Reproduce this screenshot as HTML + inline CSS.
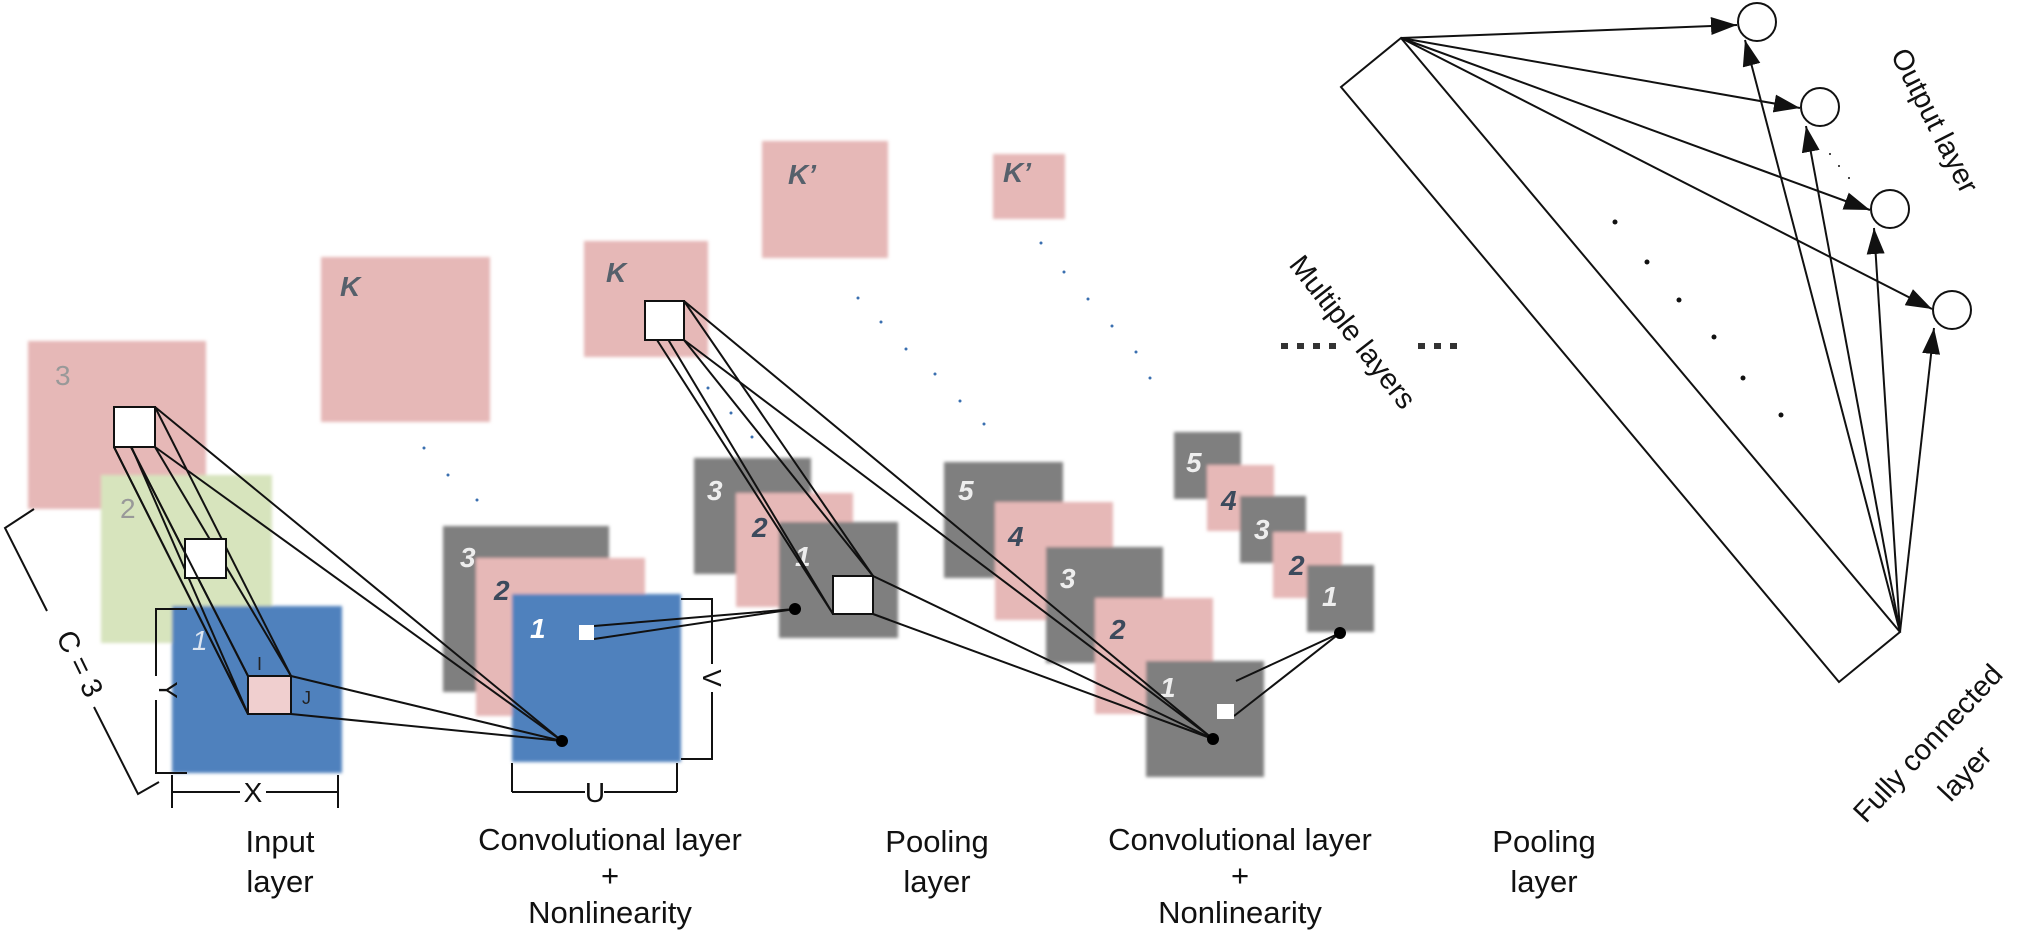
<!DOCTYPE html>
<html><head><meta charset="utf-8"><style>
html,body{margin:0;padding:0;background:#fff;}
svg{display:block;}
.lbl{font-family:"Liberation Sans",sans-serif;font-size:31px;fill:#111;text-anchor:middle;}
.num{font-family:"Liberation Sans",sans-serif;font-size:28px;font-style:italic;font-weight:bold;}
</style></head><body>
<svg width="2035" height="932" viewBox="0 0 2035 932" xmlns="http://www.w3.org/2000/svg">
<defs>
<filter id="b" x="-5%" y="-5%" width="110%" height="110%"><feGaussianBlur stdDeviation="1.5"/></filter>
<marker id="ah2" markerWidth="26" markerHeight="18" refX="26" refY="9" orient="auto" markerUnits="userSpaceOnUse" viewBox="0 0 26 18"><path d="M0,0 L26,9 L0,18 z" fill="#111"/></marker>
</defs>

<!-- Input layer -->
<g filter="url(#b)">
<rect x="28" y="341" width="178" height="168" fill="#e6b8b7"/>
<rect x="101" y="475" width="171" height="168" fill="#d7e4bd"/>
<rect x="172" y="606" width="170" height="167" fill="#4f81bd"/>
</g>
<text x="55" y="385" class="num" style="font-style:normal;font-weight:normal" fill="#999">3</text>
<text x="120" y="518" class="num" style="font-style:normal;font-weight:normal" fill="#999">2</text>
<text x="192" y="650" class="num" style="font-weight:normal" fill="#dde6f2">1</text>

<!-- Y / X brackets -->
<g stroke="#111" stroke-width="2" fill="none">
<polyline points="187,609 156,609 156,773 187,773"/>
<line x1="172" y1="775" x2="172" y2="808"/>
<line x1="338" y1="775" x2="338" y2="808"/>
<line x1="172" y1="792" x2="240" y2="792"/>
<line x1="266" y1="792" x2="338" y2="792"/>
<polyline points="34,509 5,528 47,611"/>
<polyline points="94,707 138,794 159,782"/>
</g>
<rect x="150" y="676" width="14" height="24" fill="#fff"/>
<text x="0" y="0" transform="translate(159,690) rotate(90)" class="lbl" style="font-size:26px">Y</text>
<text x="253" y="802" class="lbl" style="font-size:28px">X</text>
<text x="0" y="0" transform="translate(71,668) rotate(64)" class="lbl" style="font-size:29px">C = 3</text>

<!-- K square 1 -->
<rect x="321" y="257" width="169" height="165" fill="#e6b8b7" filter="url(#b)"/>
<text x="340" y="296" class="num" fill="#56606b">K</text>
<g fill="#3a6fb0"><circle cx="424" cy="448" r="1.5"/><circle cx="448" cy="475" r="1.5"/><circle cx="477" cy="500" r="1.5"/></g>

<!-- Conv layer 1 -->
<g filter="url(#b)">
<rect x="443" y="526" width="166" height="166" fill="#7f7f7f"/>
<rect x="476" y="558" width="169" height="158" fill="#e6b8b7"/>
<rect x="512" y="594" width="169" height="168" fill="#4f81bd"/>
</g>
<text x="460" y="567" class="num" fill="#eee">3</text>
<text x="494" y="600" class="num" fill="#3c4a5c">2</text>
<text x="530" y="638" class="num" fill="#fff">1</text>
<g stroke="#111" stroke-width="2" fill="none">
<polyline points="681,599 712,599 712,664"/>
<polyline points="712,692 712,759 681,759"/>
<line x1="512" y1="763" x2="512" y2="792"/>
<line x1="677" y1="763" x2="677" y2="792"/>
<line x1="512" y1="792" x2="585" y2="792"/>
<line x1="604" y1="792" x2="677" y2="792"/>
</g>
<text x="0" y="0" transform="translate(703,678) rotate(90)" class="lbl" style="font-size:26px">V</text>
<text x="595" y="802" class="lbl" style="font-size:28px">U</text>

<!-- K square 2 -->
<rect x="584" y="241" width="124" height="116" fill="#e6b8b7" filter="url(#b)"/>
<text x="606" y="282" class="num" fill="#56606b">K</text>
<g fill="#3a6fb0"><circle cx="708" cy="388" r="1.5"/><circle cx="731" cy="413" r="1.5"/><circle cx="752" cy="437" r="1.5"/></g>

<!-- K' squares -->
<rect x="762" y="141" width="126" height="117" fill="#e6b8b7" filter="url(#b)"/>
<text x="788" y="184" class="num" fill="#56606b">K’</text>
<rect x="993" y="154" width="72" height="65" fill="#e6b8b7" filter="url(#b)"/>
<text x="1003" y="182" class="num" fill="#56606b">K’</text>
<g fill="#3a6fb0"><circle cx="858" cy="298" r="1.5"/><circle cx="881" cy="322" r="1.5"/><circle cx="906" cy="349" r="1.5"/><circle cx="935" cy="374" r="1.5"/><circle cx="960" cy="401" r="1.5"/><circle cx="984" cy="424" r="1.5"/>
<circle cx="1041" cy="243" r="1.5"/><circle cx="1064" cy="272" r="1.5"/><circle cx="1088" cy="299" r="1.5"/><circle cx="1112" cy="326" r="1.5"/><circle cx="1136" cy="352" r="1.5"/><circle cx="1150" cy="378" r="1.5"/></g>

<!-- Pool layer 1 -->
<g filter="url(#b)">
<rect x="694" y="458" width="117" height="116" fill="#7f7f7f"/>
<rect x="736" y="493" width="117" height="114" fill="#e6b8b7"/>
<rect x="779" y="522" width="119" height="116" fill="#7f7f7f"/>
</g>
<text x="707" y="500" class="num" fill="#eee">3</text>
<text x="752" y="537" class="num" fill="#3c4a5c">2</text>
<text x="795" y="566" class="num" fill="#eee">1</text>

<!-- Conv layer 2 -->
<g filter="url(#b)">
<rect x="944" y="462" width="119" height="116" fill="#7f7f7f"/>
<rect x="995" y="502" width="118" height="118" fill="#e6b8b7"/>
<rect x="1046" y="547" width="117" height="116" fill="#7f7f7f"/>
<rect x="1095" y="598" width="118" height="116" fill="#e6b8b7"/>
<rect x="1146" y="661" width="118" height="116" fill="#7f7f7f"/>
</g>
<text x="958" y="500" class="num" fill="#eee">5</text>
<text x="1008" y="546" class="num" fill="#3c4a5c">4</text>
<text x="1060" y="588" class="num" fill="#eee">3</text>
<text x="1110" y="639" class="num" fill="#3c4a5c">2</text>
<text x="1160" y="697" class="num" fill="#eee">1</text>

<!-- Pool layer 2 -->
<g filter="url(#b)">
<rect x="1174" y="432" width="67" height="67" fill="#7f7f7f"/>
<rect x="1207" y="465" width="67" height="66" fill="#e6b8b7"/>
<rect x="1240" y="496" width="66" height="67" fill="#7f7f7f"/>
<rect x="1273" y="532" width="69" height="66" fill="#e6b8b7"/>
<rect x="1307" y="565" width="67" height="67" fill="#7f7f7f"/>
</g>
<text x="1186" y="472" class="num" fill="#eee">5</text>
<text x="1221" y="510" class="num" fill="#3c4a5c">4</text>
<text x="1254" y="539" class="num" fill="#eee">3</text>
<text x="1289" y="575" class="num" fill="#3c4a5c">2</text>
<text x="1322" y="606" class="num" fill="#eee">1</text>

<!-- Connectors on top -->
<g stroke="#111" stroke-width="2" fill="none">
<line x1="114" y1="407" x2="248" y2="714"/>
<line x1="114" y1="447" x2="248" y2="714"/>
<line x1="131" y1="447" x2="248" y2="676"/>
<line x1="155" y1="407" x2="291" y2="676"/>
<line x1="155" y1="447" x2="291" y2="676"/>
<line x1="155" y1="407" x2="562" y2="741"/>
<line x1="155" y1="447" x2="562" y2="741"/>
<line x1="291" y1="676" x2="562" y2="741"/>
<line x1="291" y1="714" x2="562" y2="741"/>
<line x1="594" y1="626" x2="795" y2="609"/>
<line x1="594" y1="639" x2="795" y2="609"/>
<line x1="645" y1="301" x2="833" y2="614"/>
<line x1="657" y1="340" x2="833" y2="614"/>
<line x1="684" y1="301" x2="873" y2="576"/>
<line x1="684" y1="340" x2="873" y2="576"/>
<line x1="684" y1="301" x2="1213" y2="739"/>
<line x1="684" y1="340" x2="1213" y2="739"/>
<line x1="873" y1="576" x2="1213" y2="739"/>
<line x1="873" y1="614" x2="1213" y2="739"/>
<line x1="1340" y1="633" x2="1236" y2="681"/>
<line x1="1340" y1="633" x2="1234" y2="716"/>
</g>
<rect x="114" y="407" width="41" height="40" fill="#fff" stroke="#111" stroke-width="2"/>
<rect x="185" y="539" width="41" height="39" fill="#fff" stroke="#111" stroke-width="2"/>
<g stroke="#111" stroke-width="2"><line x1="114" y1="447" x2="248" y2="714"/><line x1="131" y1="447" x2="248" y2="676"/></g>
<rect x="248" y="676" width="43" height="38" fill="#f0cfcf" stroke="#111" stroke-width="2"/>
<text x="257" y="670" font-family="Liberation Sans" font-size="18" fill="#222">I</text>
<text x="302" y="704" font-family="Liberation Sans" font-size="18" fill="#222">J</text>
<rect x="579" y="625" width="15" height="15" fill="#fff"/>
<rect x="645" y="301" width="39" height="39" fill="#fff" stroke="#111" stroke-width="2"/>
<rect x="833" y="576" width="40" height="38" fill="#fff" stroke="#111" stroke-width="2"/>
<rect x="1217" y="704" width="17" height="15" fill="#fff"/>
<circle cx="562" cy="741" r="6" fill="#000"/>
<circle cx="795" cy="609" r="6" fill="#000"/>
<circle cx="1213" cy="739" r="6" fill="#000"/>
<circle cx="1340" cy="633" r="6" fill="#000"/>

<!-- Multiple layers -->
<g fill="#333">
<rect x="1281" y="343" width="7" height="6"/><rect x="1297" y="343" width="7" height="6"/><rect x="1313" y="343" width="7" height="6"/><rect x="1329" y="343" width="7" height="6"/>
<rect x="1418" y="343" width="7" height="6"/><rect x="1434" y="343" width="7" height="6"/><rect x="1450" y="343" width="7" height="6"/>
</g>
<text x="0" y="0" transform="translate(1345,338) rotate(52)" class="lbl" style="font-size:29px">Multiple layers</text>

<!-- Fully connected -->
<polygon points="1401,38 1341,87 1839,682 1900,632" fill="none" stroke="#111" stroke-width="2"/>
<g fill="#111"><circle cx="1615" cy="222" r="2.5"/><circle cx="1647" cy="262" r="2.5"/><circle cx="1679" cy="300" r="2.5"/><circle cx="1714" cy="337" r="2.5"/><circle cx="1743" cy="378" r="2.5"/><circle cx="1781" cy="415" r="2.5"/>
<circle cx="1830" cy="154" r="1"/><circle cx="1839" cy="166" r="1"/><circle cx="1849" cy="178" r="1"/></g>
<g fill="#fff" stroke="#111" stroke-width="2">
<circle cx="1757" cy="22" r="19"/><circle cx="1820" cy="107" r="19"/><circle cx="1890" cy="209" r="19"/><circle cx="1952" cy="310" r="19"/>
</g>
<g stroke="#111" stroke-width="2" fill="none" marker-end="url(#ah2)">
<line x1="1401" y1="38" x2="1737" y2="25"/>
<line x1="1401" y1="38" x2="1800" y2="108"/>
<line x1="1401" y1="38" x2="1870" y2="210"/>
<line x1="1401" y1="38" x2="1932" y2="309"/>
<line x1="1900" y1="632" x2="1745" y2="40"/>
<line x1="1900" y1="632" x2="1806" y2="126"/>
<line x1="1900" y1="632" x2="1874" y2="228"/>
<line x1="1900" y1="632" x2="1934" y2="328"/>
</g>
<text x="0" y="0" transform="translate(1926,125) rotate(63)" class="lbl" style="font-size:29px">Output layer</text>
<text x="0" y="0" transform="translate(1935,750) rotate(-47)" class="lbl" style="font-size:29px">Fully connected</text>
<text x="0" y="0" transform="translate(1972,780) rotate(-47)" class="lbl" style="font-size:29px">layer</text>

<!-- Bottom labels -->
<text x="280" y="852" class="lbl">Input</text>
<text x="280" y="892" class="lbl">layer</text>
<text x="610" y="850" class="lbl">Convolutional layer</text>
<text x="610" y="886" class="lbl">+</text>
<text x="610" y="923" class="lbl">Nonlinearity</text>
<text x="937" y="852" class="lbl">Pooling</text>
<text x="937" y="892" class="lbl">layer</text>
<text x="1240" y="850" class="lbl">Convolutional layer</text>
<text x="1240" y="886" class="lbl">+</text>
<text x="1240" y="923" class="lbl">Nonlinearity</text>
<text x="1544" y="852" class="lbl">Pooling</text>
<text x="1544" y="892" class="lbl">layer</text>
</svg>
</body></html>
